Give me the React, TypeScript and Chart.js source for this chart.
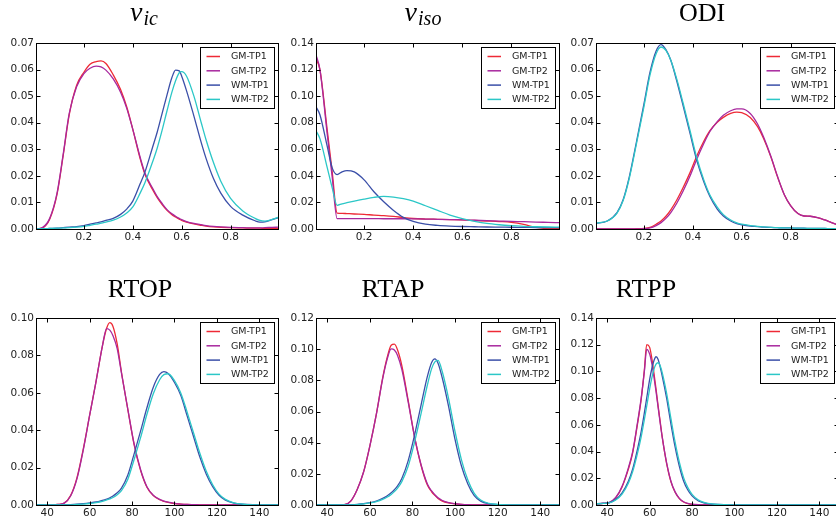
import React, { useEffect, useRef } from 'react';
import { Chart, registerables } from 'chart.js';
Chart.register(...registerables);

// ---------- shared labels ----------
const seriesNames = ['GM-TP1', 'GM-TP2', 'WM-TP1', 'WM-TP2'];
const seriesColors = ['#ee2a35', '#a8289e', '#3a4fa8', '#2bc7c7'];

const panelTitles = ['ν', 'ν', 'ODI', 'RTOP', 'RTAP', 'RTPP'];
const panelSubs = ['ic', 'iso', '', '', '', ''];

const fracTicks = [0.2, 0.4, 0.6, 0.8];
const rtTicks = [40, 60, 80, 100, 120, 140];
const yTicks007 = [0, 0.01, 0.02, 0.03, 0.04, 0.05, 0.06, 0.07];
const yTicks014 = [0, 0.02, 0.04, 0.06, 0.08, 0.1, 0.12, 0.14];
const yTicks010 = [0, 0.02, 0.04, 0.06, 0.08, 0.1];
const yTicks012 = [0, 0.02, 0.04, 0.06, 0.08, 0.1, 0.12];

// ---------- nu_ic ----------
const nuIcX = [0.004, 0.03, 0.06, 0.09, 0.115, 0.14, 0.17, 0.2, 0.225, 0.25, 0.27, 0.29, 0.32, 0.35, 0.375, 0.4, 0.43, 0.45, 0.48, 0.5, 0.52, 0.54, 0.56, 0.575, 0.59, 0.6, 0.62, 0.65, 0.68, 0.7, 0.73, 0.76, 0.8, 0.85, 0.9, 0.92, 0.94, 0.97, 0.994];
const nuIcGM1 = [0, 0.0004, 0.0037, 0.013, 0.0275, 0.043, 0.054, 0.059, 0.062, 0.063, 0.0633, 0.0623, 0.058, 0.0525, 0.046, 0.0375, 0.0265, 0.0205, 0.015, 0.0118, 0.0092, 0.007, 0.0054, 0.0045, 0.0037, 0.0032, 0.0026, 0.0019, 0.0014, 0.0011, 0.0008, 0.0006, 0.0005, 0.0004, 0.0003, 0.0003, 0.0002, 0.0002, 0.0002];
const nuIcGM2 = [0, 0.0005, 0.004, 0.0135, 0.028, 0.0435, 0.0535, 0.0585, 0.0605, 0.0613, 0.061, 0.0598, 0.0565, 0.0515, 0.0455, 0.0375, 0.027, 0.021, 0.0155, 0.0122, 0.0096, 0.0073, 0.0057, 0.0048, 0.004, 0.0035, 0.0028, 0.0021, 0.0016, 0.0013, 0.001, 0.0008, 0.0006, 0.0005, 0.0004, 0.0004, 0.0005, 0.0006, 0.0007];
const nuIcWM1 = [0, 0.0001, 0.0002, 0.0003, 0.0005, 0.0007, 0.0009, 0.0013, 0.0018, 0.0023, 0.0027, 0.0032, 0.004, 0.0055, 0.0075, 0.0105, 0.017, 0.0215, 0.0305, 0.0365, 0.0435, 0.0505, 0.057, 0.0598, 0.0595, 0.0575, 0.052, 0.0425, 0.0325, 0.0265, 0.019, 0.0135, 0.0085, 0.0052, 0.0031, 0.0026, 0.0027, 0.0035, 0.0042];
const nuIcWM2 = [0, 0.0001, 0.0002, 0.0003, 0.0004, 0.0005, 0.0007, 0.001, 0.0014, 0.0018, 0.0022, 0.0026, 0.0033, 0.0045, 0.006, 0.0083, 0.0135, 0.0175, 0.025, 0.0305, 0.0372, 0.0445, 0.0515, 0.0558, 0.0588, 0.0592, 0.0575, 0.05, 0.04, 0.0335, 0.025, 0.018, 0.0115, 0.0068, 0.004, 0.0032, 0.003, 0.0036, 0.0044];

// ---------- nu_iso ----------
const nuIsoX = [0.004, 0.02, 0.05, 0.07, 0.09, 0.11, 0.13, 0.16, 0.2, 0.24, 0.28, 0.32, 0.36, 0.4, 0.45, 0.5, 0.55, 0.6, 0.65, 0.7, 0.75, 0.8, 0.85, 0.9, 0.95, 0.994];
const nuIsoGM1 = [0.128, 0.12, 0.074, 0.043, 0.012, 0.0118, 0.0116, 0.0113, 0.011, 0.0105, 0.0101, 0.0095, 0.0086, 0.0079, 0.0075, 0.0073, 0.0071, 0.0068, 0.0064, 0.006, 0.0056, 0.005, 0.0035, 0.0012, 0.0003, 0.0002];
const nuIsoGM2 = [0.131, 0.12, 0.071, 0.039, 0.0078, 0.0078, 0.0078, 0.0078, 0.0078, 0.0078, 0.0077, 0.0077, 0.0077, 0.0076, 0.0075, 0.0073, 0.0071, 0.0069, 0.0066, 0.0063, 0.006, 0.0057, 0.0055, 0.0052, 0.005, 0.0048];
const nuIsoWM1 = [0.092, 0.086, 0.062, 0.046, 0.041, 0.043, 0.044, 0.043, 0.037, 0.028, 0.0205, 0.014, 0.0088, 0.0057, 0.0036, 0.0027, 0.0022, 0.0019, 0.0017, 0.0015, 0.0014, 0.0013, 0.0012, 0.0011, 0.001, 0.001];
const nuIsoWM2 = [0.074, 0.068, 0.046, 0.031, 0.0178, 0.019, 0.0198, 0.021, 0.0225, 0.0238, 0.0245, 0.024, 0.0228, 0.021, 0.0175, 0.014, 0.0105, 0.0078, 0.0058, 0.0042, 0.0032, 0.0025, 0.002, 0.0017, 0.0015, 0.0014];

// ---------- ODI ----------
const odiX = [0.004, 0.05, 0.09, 0.115, 0.14, 0.17, 0.2, 0.225, 0.25, 0.27, 0.29, 0.31, 0.335, 0.36, 0.39, 0.415, 0.445, 0.47, 0.5, 0.525, 0.555, 0.58, 0.6, 0.635, 0.665, 0.69, 0.72, 0.745, 0.775, 0.8, 0.83, 0.855, 0.88, 0.91, 0.94, 0.965, 0.994];
const odiGM1 = [0, 0, 0, 0, 0, 0.0001, 0.0002, 0.0006, 0.0018, 0.003, 0.0048, 0.0072, 0.011, 0.0155, 0.0215, 0.0272, 0.033, 0.037, 0.0402, 0.042, 0.0435, 0.044, 0.0438, 0.042, 0.0385, 0.034, 0.027, 0.02, 0.0128, 0.0088, 0.0058, 0.0049, 0.0048, 0.0043, 0.0034, 0.0025, 0.0015];
const odiGM2 = [0, 0, 0, 0, 0, 0, 0.0001, 0.0004, 0.0013, 0.0024, 0.004, 0.0062, 0.0098, 0.0142, 0.0202, 0.026, 0.0322, 0.0367, 0.0404, 0.0428, 0.0445, 0.0452, 0.0452, 0.0435, 0.0395, 0.0345, 0.0272, 0.0202, 0.0128, 0.0088, 0.0058, 0.0049, 0.0048, 0.0043, 0.0034, 0.0025, 0.0015];
const odiWM1 = [0.0021, 0.003, 0.0062, 0.011, 0.0195, 0.033, 0.047, 0.059, 0.067, 0.0694, 0.0675, 0.0635, 0.0555, 0.0465, 0.0355, 0.0262, 0.0178, 0.0122, 0.0075, 0.0049, 0.003, 0.002, 0.0016, 0.0011, 0.0009, 0.0007, 0.0006, 0.0005, 0.0004, 0.0004, 0.0003, 0.0003, 0.0002, 0.0002, 0.0002, 0.0001, 0.0001];
const odiWM2 = [0.0022, 0.003, 0.006, 0.0107, 0.019, 0.0323, 0.046, 0.058, 0.066, 0.0685, 0.0672, 0.0635, 0.0562, 0.0475, 0.0365, 0.0272, 0.0185, 0.0128, 0.0082, 0.0054, 0.0034, 0.0023, 0.0018, 0.0013, 0.001, 0.0008, 0.0006, 0.0005, 0.0004, 0.0004, 0.0003, 0.0003, 0.0002, 0.0002, 0.0002, 0.0001, 0.0001];

// ---------- RTOP ----------
const rtopX = [34, 40, 45, 48, 51, 54, 57, 60, 63, 66, 68, 69.5, 71, 73, 75, 78, 81, 84, 87, 90, 93, 95, 97, 100, 103, 106, 109, 112, 115, 118, 121, 124, 128, 132, 138, 144, 149];
const rtopGM1 = [0, 0, 0.0003, 0.001, 0.005, 0.0145, 0.03, 0.048, 0.066, 0.085, 0.0945, 0.0975, 0.0955, 0.086, 0.071, 0.051, 0.032, 0.0185, 0.0095, 0.005, 0.0028, 0.002, 0.0014, 0.0008, 0.0005, 0.0003, 0.0002, 0.0001, 0.0001, 0, 0, 0, 0, 0, 0, 0, 0];
const rtopGM2 = [0, 0, 0.0003, 0.001, 0.0048, 0.014, 0.0295, 0.048, 0.066, 0.085, 0.0943, 0.0935, 0.0905, 0.0835, 0.0705, 0.0512, 0.0325, 0.019, 0.0098, 0.0052, 0.003, 0.0021, 0.0015, 0.0009, 0.0005, 0.0003, 0.0002, 0.0001, 0.0001, 0, 0, 0, 0, 0, 0, 0, 0];
const rtopWM1 = [0, 0, 0, 0.0001, 0.0002, 0.0004, 0.0007, 0.0011, 0.0016, 0.0025, 0.0032, 0.0038, 0.0048, 0.0065, 0.009, 0.016, 0.0275, 0.0395, 0.052, 0.063, 0.0698, 0.0713, 0.0703, 0.0655, 0.0585, 0.0475, 0.0365, 0.0255, 0.0165, 0.0098, 0.0052, 0.0026, 0.001, 0.0004, 0.0001, 0, 0];
const rtopWM2 = [0, 0, 0, 0.0001, 0.0001, 0.0003, 0.0005, 0.0008, 0.0013, 0.002, 0.0027, 0.0033, 0.004, 0.0055, 0.0077, 0.0138, 0.0245, 0.036, 0.0485, 0.0595, 0.067, 0.0697, 0.0702, 0.0665, 0.0598, 0.0495, 0.0385, 0.0275, 0.018, 0.0108, 0.0058, 0.003, 0.0012, 0.0005, 0.0001, 0, 0];

// ---------- RTAP ----------
const rtapX = [34, 40, 45, 48, 51, 54, 57, 60, 63, 66, 68, 70, 71.5, 73, 75, 78, 81, 84, 87, 89, 90.5, 92, 94, 97, 100, 103, 106, 109, 112, 116, 120, 126, 134, 142, 149];
const rtapGM1 = [0, 0, 0, 0.0002, 0.0025, 0.0098, 0.021, 0.038, 0.058, 0.0815, 0.094, 0.1025, 0.1032, 0.0995, 0.0895, 0.067, 0.0435, 0.0255, 0.0128, 0.0085, 0.0062, 0.0042, 0.0025, 0.0013, 0.0007, 0.0004, 0.0002, 0.0001, 0, 0, 0, 0, 0, 0, 0];
const rtapGM2 = [0, 0, 0, 0.0002, 0.0025, 0.0098, 0.021, 0.038, 0.058, 0.081, 0.093, 0.1002, 0.0995, 0.096, 0.087, 0.066, 0.0435, 0.026, 0.0135, 0.009, 0.0066, 0.0046, 0.0029, 0.0015, 0.0008, 0.0004, 0.0002, 0.0001, 0, 0, 0, 0, 0, 0, 0];
const rtapWM1 = [0, 0, 0, 0.0001, 0.0002, 0.0004, 0.0008, 0.0015, 0.0025, 0.0042, 0.0058, 0.0078, 0.0098, 0.0122, 0.017, 0.0285, 0.045, 0.064, 0.0825, 0.0915, 0.0938, 0.091, 0.0815, 0.063, 0.042, 0.025, 0.0135, 0.006, 0.0025, 0.0008, 0.0003, 0.0001, 0, 0, 0];
const rtapWM2 = [0, 0, 0, 0.0001, 0.0001, 0.0003, 0.0007, 0.0013, 0.0022, 0.0036, 0.005, 0.0068, 0.0086, 0.0108, 0.015, 0.025, 0.0405, 0.0585, 0.077, 0.0875, 0.0918, 0.0928, 0.0855, 0.068, 0.047, 0.029, 0.016, 0.0075, 0.0032, 0.001, 0.0004, 0.0001, 0, 0, 0];

// ---------- RTPP ----------
const rtppX = [34, 38, 41, 44, 47, 50, 52, 54, 56, 57.5, 58.6, 60, 61, 62, 63, 64, 65, 66, 68, 70, 72, 74, 76, 78, 80, 83, 86, 90, 95, 100, 110, 120, 135, 149];
const rtppGM1 = [0.0008, 0.0012, 0.0018, 0.0053, 0.0135, 0.027, 0.039, 0.058, 0.079, 0.101, 0.12, 0.118, 0.11, 0.099, 0.087, 0.074, 0.062, 0.05, 0.031, 0.0175, 0.0095, 0.0048, 0.0022, 0.0011, 0.0005, 0.0002, 0.0001, 0, 0, 0, 0, 0, 0, 0];
const rtppGM2 = [0.0009, 0.0013, 0.002, 0.0056, 0.014, 0.028, 0.04, 0.059, 0.08, 0.1, 0.1165, 0.113, 0.106, 0.096, 0.085, 0.073, 0.061, 0.05, 0.0315, 0.018, 0.0098, 0.005, 0.0024, 0.0012, 0.0006, 0.0002, 0.0001, 0, 0, 0, 0, 0, 0, 0];
const rtppWM1 = [0.0008, 0.0012, 0.0017, 0.0042, 0.009, 0.018, 0.027, 0.04, 0.055, 0.069, 0.08, 0.094, 0.102, 0.108, 0.111, 0.109, 0.103, 0.096, 0.08, 0.061, 0.0435, 0.029, 0.018, 0.0112, 0.0068, 0.003, 0.0014, 0.0006, 0.0002, 0.0001, 0, 0, 0, 0];
const rtppWM2 = [0.0008, 0.0012, 0.0016, 0.0038, 0.0082, 0.0165, 0.025, 0.037, 0.051, 0.064, 0.074, 0.087, 0.095, 0.1015, 0.1055, 0.1065, 0.104, 0.0985, 0.0835, 0.065, 0.047, 0.032, 0.0205, 0.013, 0.008, 0.0037, 0.0017, 0.0007, 0.0002, 0.0001, 0, 0, 0, 0];

// ---------- assembly ----------
const fracRange = [0.004, 0.994];
const rtRange = [34.7, 148.8];

const panelData = [
  { x: nuIcX, ys: [nuIcGM1, nuIcGM2, nuIcWM1, nuIcWM2], xTicks: fracTicks, xRange: fracRange, yTicks: yTicks007, xDec: 1 },
  { x: nuIsoX, ys: [nuIsoGM1, nuIsoGM2, nuIsoWM1, nuIsoWM2], xTicks: fracTicks, xRange: fracRange, yTicks: yTicks014, xDec: 1 },
  { x: odiX, ys: [odiGM1, odiGM2, odiWM1, odiWM2], xTicks: fracTicks, xRange: fracRange, yTicks: yTicks007, xDec: 1 },
  { x: rtopX, ys: [rtopGM1, rtopGM2, rtopWM1, rtopWM2], xTicks: rtTicks, xRange: rtRange, yTicks: yTicks010, xDec: 0 },
  { x: rtapX, ys: [rtapGM1, rtapGM2, rtapWM1, rtapWM2], xTicks: rtTicks, xRange: rtRange, yTicks: yTicks012, xDec: 0 },
  { x: rtppX, ys: [rtppGM1, rtppGM2, rtppWM1, rtppWM2], xTicks: rtTicks, xRange: rtRange, yTicks: yTicks014, xDec: 0 },
];

// layout (pixels)
const colPlotLeft = [36, 316, 596];
const colPlotWidth = [242, 243, 242];
const rowCanvasTop = [0, 260];
const rowPadTop = [43, 58];
const rowPlotHeight = [186, 187];
const rowXAxisH = [20, 15];
const rowTitleBase = [21, 37];
const titleCenters = [144, 143, 142, 140, 113, 86];
const Y_AXIS_W = 36;
const PAD_RIGHT = 6;

const TICK_FONT = { family: '"DejaVu Sans", sans-serif', size: 10.5 };

function makePlugins(idx: number) {
  const title = panelTitles[idx];
  const sub = panelSubs[idx];
  const row = idx < 3 ? 0 : 1;
  return [
    {
      id: 'frameTicks',
      afterDatasetsDraw(chart: any) {
        const { ctx, chartArea, scales } = chart;
        const L = Math.round(chartArea.left) + 0.5;
        const R = Math.round(chartArea.right) + 0.5;
        const T = Math.round(chartArea.top) + 0.5;
        const B = Math.round(chartArea.bottom) + 0.5;
        ctx.save();
        ctx.strokeStyle = '#000';
        ctx.lineWidth = 1;
        ctx.beginPath();
        scales.x.ticks.forEach((t: any) => {
          const px = Math.round(scales.x.getPixelForValue(t.value)) + 0.5;
          ctx.moveTo(px, B); ctx.lineTo(px, B - 4);
          ctx.moveTo(px, T); ctx.lineTo(px, T + 4);
        });
        scales.y.ticks.forEach((t: any) => {
          const py = Math.round(scales.y.getPixelForValue(t.value)) + 0.5;
          ctx.moveTo(L, py); ctx.lineTo(L + 4, py);
          ctx.moveTo(R, py); ctx.lineTo(R - 4, py);
        });
        ctx.stroke();
        ctx.strokeRect(L, T, R - L, B - T);
        ctx.restore();
      },
    },
    {
      id: 'boxLegend',
      afterDraw(chart: any) {
        const { ctx, chartArea } = chart;
        const boxW = 74, boxH = 61;
        const right = Math.round(chartArea.right) - 4;
        const top = Math.round(chartArea.top) + 4;
        const left = right - boxW;
        ctx.save();
        ctx.fillStyle = '#fff';
        ctx.fillRect(left, top, boxW, boxH);
        ctx.strokeStyle = '#000';
        ctx.lineWidth = 1;
        ctx.strokeRect(left + 0.5, top + 0.5, boxW, boxH);
        ctx.font = '9.5px "DejaVu Sans", sans-serif';
        ctx.textBaseline = 'middle';
        ctx.textAlign = 'left';
        chart.data.datasets.forEach((ds: any, i: number) => {
          const y = top + 9.5 + i * 14.3;
          ctx.strokeStyle = ds.borderColor;
          ctx.lineWidth = 1.5;
          ctx.beginPath();
          ctx.moveTo(left + 6.5, y);
          ctx.lineTo(left + 20, y);
          ctx.stroke();
          ctx.fillStyle = '#222';
          ctx.fillText(ds.label, left + 31, y + 0.5);
        });
        ctx.restore();
      },
    },
    {
      id: 'panelTitle',
      afterDraw(chart: any) {
        const { ctx } = chart;
        const cx = titleCenters[idx];
        const base = rowTitleBase[row];
        const mainFont = sub ? 'italic 28px "Liberation Serif", serif' : '26px "Liberation Serif", serif';
        const subFont = 'italic 20px "Liberation Serif", serif';
        ctx.save();
        ctx.fillStyle = '#000';
        ctx.textBaseline = 'alphabetic';
        ctx.textAlign = 'left';
        ctx.font = mainFont;
        const wm = ctx.measureText(title).width;
        let ws = 0;
        if (sub) {
          ctx.font = subFont;
          ws = ctx.measureText(sub).width + 1;
        }
        const x0 = cx - (wm + ws) / 2;
        ctx.font = mainFont;
        ctx.fillText(title, x0, base);
        if (sub) {
          ctx.font = subFont;
          ctx.fillText(sub, x0 + wm + 1, base + 4);
        }
        ctx.restore();
      },
    },
  ];
}

function Panel({ idx }: { idx: number }) {
  const ref = useRef<HTMLCanvasElement>(null);
  const col = idx % 3;
  const row = idx < 3 ? 0 : 1;
  const w = Y_AXIS_W + colPlotWidth[col] + PAD_RIGHT;
  const h = rowPadTop[row] + rowPlotHeight[row] + rowXAxisH[row];
  const left = colPlotLeft[col] - Y_AXIS_W;
  const top = rowCanvasTop[row];

  useEffect(() => {
    const d = panelData[idx];
    const datasets = d.ys.map((ys, i) => ({
      label: seriesNames[i],
      data: d.x.map((xv, j) => ({ x: xv, y: ys[j] })),
      borderColor: seriesColors[i],
      backgroundColor: seriesColors[i],
      borderWidth: 1.3,
      pointRadius: 0,
      fill: false,
      cubicInterpolationMode: 'monotone' as const,
      order: 4 - i,
    }));
    const yMax = d.yTicks[d.yTicks.length - 1];
    const chart = new Chart(ref.current as HTMLCanvasElement, {
      type: 'line',
      data: { datasets },
      options: {
        animation: false,
        responsive: false,
        maintainAspectRatio: false,
        events: [],
        layout: { padding: { left: 0, top: rowPadTop[row], right: PAD_RIGHT, bottom: 0 } },
        plugins: { legend: { display: false }, tooltip: { enabled: false }, title: { display: false } },
        scales: {
          x: {
            type: 'linear',
            min: d.xRange[0],
            max: d.xRange[1],
            grid: { display: false, drawTicks: false },
            border: { display: false },
            ticks: {
              padding: 2,
              autoSkip: false,
              maxRotation: 0,
              color: '#222',
              font: TICK_FONT,
              callback: (v: any) => Number(v).toFixed(d.xDec),
            },
            afterBuildTicks: (s: any) => { s.ticks = d.xTicks.map((v) => ({ value: v })); },
            afterFit: (s: any) => { s.height = rowXAxisH[row]; },
          },
          y: {
            type: 'linear',
            min: 0,
            max: yMax,
            grid: { display: false, drawTicks: false },
            border: { display: false },
            ticks: {
              padding: 2,
              autoSkip: false,
              color: '#222',
              font: TICK_FONT,
              callback: (v: any) => Number(v).toFixed(2),
            },
            afterBuildTicks: (s: any) => { s.ticks = d.yTicks.map((v) => ({ value: v })); },
            afterFit: (s: any) => { s.width = Y_AXIS_W; },
          },
        },
      },
      plugins: makePlugins(idx),
    } as any);
    return () => chart.destroy();
  }, [idx]);

  return (
    <canvas
      ref={ref}
      width={w}
      height={h}
      style={{ position: 'absolute', left, top, width: w, height: h }}
    />
  );
}

export default function App() {
  return (
    <div
      style={{
        position: 'fixed',
        left: 0,
        top: 0,
        width: 836,
        height: 520,
        overflow: 'hidden',
        background: '#fff',
      }}
    >
      {[0, 1, 2, 3, 4, 5].map((i) => (
        <Panel key={i} idx={i} />
      ))}
    </div>
  );
}
